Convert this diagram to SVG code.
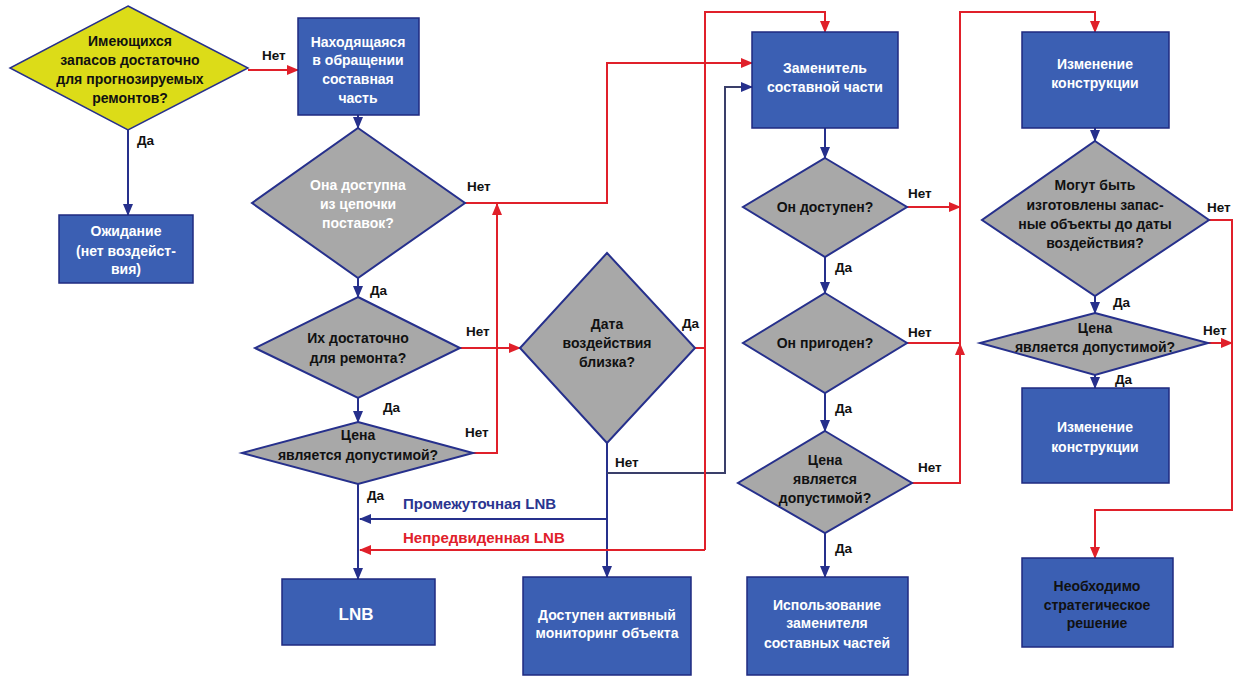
<svg xmlns="http://www.w3.org/2000/svg" width="1243" height="677" viewBox="0 0 1243 677">
<style>
.box{fill:#3b5fb3;stroke:#1f2a80;stroke-width:1.5}
.dia{fill:#a8a8a8;stroke:#26308c;stroke-width:2}
.yel{fill:#dcdc18;stroke:#26308c;stroke-width:1.5}
text{font-family:"Liberation Sans",Arial,sans-serif;font-weight:bold;font-size:14px}
.w{fill:#ffffff;text-anchor:middle}
.k{fill:#111111;text-anchor:middle}
.lab{fill:#111111;font-size:13.5px}
.big{font-size:15px}
.lnb{font-size:17px}
.bl{stroke:#26308c;stroke-width:2;fill:none}
.gr{stroke:#3a3f6a;stroke-width:2;fill:none}
.rd{stroke:#e0202a;stroke-width:2;fill:none}
</style>
<defs>
<marker id="ab" markerWidth="12" markerHeight="12" refX="11" refY="6" orient="auto" markerUnits="userSpaceOnUse"><path d="M0,1 L12,6 L0,11 Z" fill="#26308c"/></marker>
<marker id="ag" markerWidth="12" markerHeight="12" refX="11" refY="6" orient="auto" markerUnits="userSpaceOnUse"><path d="M0,1 L12,6 L0,11 Z" fill="#26308c"/></marker>
<marker id="ar" markerWidth="12" markerHeight="12" refX="11" refY="6" orient="auto" markerUnits="userSpaceOnUse"><path d="M0,1 L12,6 L0,11 Z" fill="#e0202a"/></marker>
</defs>
<rect width="1243" height="677" fill="#ffffff"/>

<g id="connectors">
<path class="bl" d="M128,130 L128,215" marker-end="url(#ab)"/>
<path class="bl" d="M358,115 L358,128" marker-end="url(#ab)"/>
<path class="bl" d="M358,278 L358,297" marker-end="url(#ab)"/>
<path class="bl" d="M358,398 L358,422" marker-end="url(#ab)"/>
<path class="bl" d="M358,484 L358,579" marker-end="url(#ab)"/>
<path class="bl" d="M607,443 L607,577" marker-end="url(#ab)"/>
<path class="bl" d="M825,128 L825,158" marker-end="url(#ab)"/>
<path class="bl" d="M825,257 L825,293" marker-end="url(#ab)"/>
<path class="bl" d="M825,393 L825,431" marker-end="url(#ab)"/>
<path class="bl" d="M825,533 L825,577" marker-end="url(#ab)"/>
<path class="bl" d="M1095,128 L1095,141" marker-end="url(#ab)"/>
<path class="bl" d="M1095,296 L1095,313" marker-end="url(#ab)"/>
<path class="bl" d="M1095,375 L1095,388" marker-end="url(#ab)"/>
<path class="gr" d="M607,473 L725,473 L725,87 L752,87" marker-end="url(#ag)"/>
<path class="bl" d="M607,519 L360,519" marker-end="url(#ab)"/>

<path class="rd" d="M248,70 L298,70" marker-end="url(#ar)"/>
<path class="rd" d="M473,453 L497,453 L497,204" marker-end="url(#ar)"/>
<path class="rd" d="M465,203 L607,203 L607,63 L752,63" marker-end="url(#ar)"/>
<path class="rd" d="M460,348 L520,348" marker-end="url(#ar)"/>
<path class="rd" d="M695,348 L705,348"/>
<path class="rd" d="M705,550 L705,12 L825,12 L825,32" marker-end="url(#ar)"/>
<path class="rd" d="M705,550 L360,550" marker-end="url(#ar)"/>
<path class="rd" d="M907,207 L960,207" marker-end="url(#ar)"/>
<path class="rd" d="M907,343 L960,343"/>
<path class="rd" d="M912,483 L960,483 L960,344" marker-end="url(#ar)"/>
<path class="rd" d="M960,344 L960,12 L1095,12 L1095,32" marker-end="url(#ar)"/>
<path class="rd" d="M1209,220 L1232,220 L1232,510 L1095,510 L1095,558" marker-end="url(#ar)"/>
<path class="rd" d="M1208,343 L1232,343" marker-end="url(#ar)"/>

<text class="lab" x="262" y="60">Нет</text>
<text class="lab" x="137" y="145">Да</text>
<text class="lab" x="467" y="191">Нет</text>
<text class="lab" x="370" y="295">Да</text>
<text class="lab" x="466" y="336">Нет</text>
<text class="lab" x="383" y="412">Да</text>
<text class="lab" x="465" y="437">Нет</text>
<text class="lab" x="367" y="500">Да</text>
<text class="lab" x="682" y="328">Да</text>
<text class="lab" x="615" y="467">Нет</text>
<text class="lab" x="908" y="198">Нет</text>
<text class="lab" x="835" y="272">Да</text>
<text class="lab" x="908" y="337">Нет</text>
<text class="lab" x="835" y="413">Да</text>
<text class="lab" x="918" y="472">Нет</text>
<text class="lab" x="835" y="553">Да</text>
<text class="lab" x="1207" y="212">Нет</text>
<text class="lab" x="1113" y="307">Да</text>
<text class="lab" x="1203" y="335">Нет</text>
<text class="lab" x="1115" y="384">Да</text>
<text class="big" x="403" y="509" fill="#2a3590">Промежуточная LNB</text>
<text class="big" x="403" y="543" fill="#e0202a">Непредвиденная LNB</text>
</g>

<g id="n-start">
<polygon class="yel" points="128,6 248,68 128,130 10,68"/>
<text class="k" x="130" y="46">Имеющихся</text>
<text class="k" x="130" y="65">запасов достаточно</text>
<text class="k" x="130" y="84">для прогнозируемых</text>
<text class="k" x="130" y="103">ремонтов?</text>
</g>

<g id="n-wait">
<rect class="box" x="59" y="215" width="134" height="68"/>
<text class="w" x="126" y="236">Ожидание</text>
<text class="w" x="126" y="256">(нет воздейст-</text>
<text class="w" x="126" y="274">вия)</text>
</g>

<g id="n-part">
<rect class="box" x="298" y="18" width="121" height="97"/>
<text class="w" x="358" y="47">Находящаяся</text>
<text class="w" x="358" y="65">в обращении</text>
<text class="w" x="358" y="84">составная</text>
<text class="w" x="358" y="103">часть</text>
</g>

<g id="n-supply">
<polygon class="dia" points="358,128 465,203 358,278 252,203"/>
<text class="w" x="358" y="190">Она доступна</text>
<text class="w" x="358" y="209">из цепочки</text>
<text class="w" x="358" y="228">поставок?</text>
</g>

<g id="n-enough">
<polygon class="dia" points="358,297 460,348 358,398 255,348"/>
<text class="k" x="358" y="343">Их достаточно</text>
<text class="k" x="358" y="363">для ремонта?</text>
</g>

<g id="n-price1">
<polygon class="dia" points="358,422 473,453 358,484 242,453"/>
<text class="k" x="358" y="440">Цена</text>
<text class="k" x="358" y="460">является допустимой?</text>
</g>

<g id="n-lnb">
<rect class="box" x="282" y="579" width="153" height="66"/>
<text class="w lnb" x="356" y="620">LNB</text>
</g>

<g id="n-date">
<polygon class="dia" points="607,253 695,348 607,443 520,348"/>
<text class="k" x="607" y="329">Дата</text>
<text class="k" x="607" y="348">воздействия</text>
<text class="k" x="607" y="367">близка?</text>
</g>

<g id="n-monitor">
<rect class="box" x="523" y="577" width="168" height="98"/>
<text class="w" x="607" y="620">Доступен активный</text>
<text class="w" x="607" y="638">мониторинг объекта</text>
</g>

<g id="n-subst">
<rect class="box" x="752" y="32" width="146" height="96"/>
<text class="w" x="825" y="73">Заменитель</text>
<text class="w" x="825" y="92">составной части</text>
</g>

<g id="n-avail">
<polygon class="dia" points="825,158 907,207 825,257 743,207"/>
<text class="k" x="825" y="212">Он доступен?</text>
</g>

<g id="n-fit">
<polygon class="dia" points="825,293 907,343 825,393 743,343"/>
<text class="k" x="825" y="348">Он пригоден?</text>
</g>

<g id="n-price2">
<polygon class="dia" points="825,431 912,483 825,533 738,483"/>
<text class="k" x="825" y="465">Цена</text>
<text class="k" x="825" y="484">является</text>
<text class="k" x="825" y="503">допустимой?</text>
</g>

<g id="n-use">
<rect class="box" x="747" y="577" width="161" height="98"/>
<text class="w" x="827" y="610">Использование</text>
<text class="w" x="827" y="628">заменителя</text>
<text class="w" x="827" y="648">составных частей</text>
</g>

<g id="n-redesign1">
<rect class="box" x="1022" y="32" width="147" height="96"/>
<text class="w" x="1095" y="69">Изменение</text>
<text class="w" x="1095" y="88">конструкции</text>
</g>

<g id="n-make">
<polygon class="dia" points="1095,141 1209,220 1095,296 982,220"/>
<text class="k" x="1095" y="190">Могут быть</text>
<text class="k" x="1095" y="210">изготовлены запас-</text>
<text class="k" x="1095" y="229">ные объекты до даты</text>
<text class="k" x="1095" y="248">воздействия?</text>
</g>

<g id="n-price3">
<polygon class="dia" points="1095,313 1208,343 1095,375 980,343"/>
<text class="k" x="1095" y="333">Цена</text>
<text class="k" x="1095" y="352">является допустимой?</text>
</g>

<g id="n-redesign2">
<rect class="box" x="1022" y="388" width="147" height="95"/>
<text class="w" x="1095" y="432">Изменение</text>
<text class="w" x="1095" y="452">конструкции</text>
</g>

<g id="n-strategic">
<rect class="box" x="1022" y="558" width="151" height="89"/>
<text class="k" x="1097" y="591">Необходимо</text>
<text class="k" x="1097" y="610">стратегическое</text>
<text class="k" x="1097" y="628">решение</text>
</g>
</svg>
